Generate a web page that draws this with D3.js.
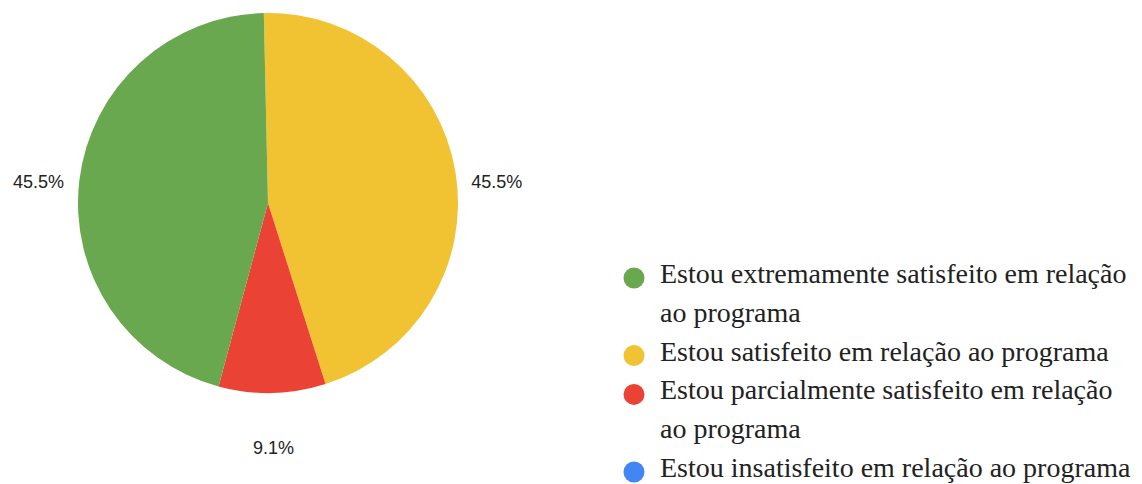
<!DOCTYPE html>
<html lang="pt">
<head>
	<meta charset="UTF-8">
	<title>Satisfação com o programa</title>
	<script src="https://cdn.jsdelivr.net/npm/d3@7"></script>
	<style>
		html, body { margin: 0; padding: 0; background: #fff; }
	</style>
</head>
<body>
	<svg id="svg"></svg>
	<script>
		// legend order
		var categories = [
			"Estou extremamente satisfeito em relação ao programa",
			"Estou satisfeito em relação ao programa",
			"Estou parcialmente satisfeito em relação ao programa",
			"Estou insatisfeito em relação ao programa"
		];
		var legendLines = [
			["Estou extremamente satisfeito em relação", "ao programa"],
			["Estou satisfeito em relação ao programa"],
			["Estou parcialmente satisfeito em relação", "ao programa"],
			["Estou insatisfeito em relação ao programa"]
		];
		var counts = [5, 5, 1, 0];
		var colors = ["#6aa84f", "#f1c232", "#ea4335", "#4285f4"];
		// order in which slices are drawn clockwise from the top
		var sliceOrder = [1, 2, 0, 3];

		var w = 1142, h = 484,
			cx = 268, cy = 203, r = 190,
			svg = d3.select("#svg").attr("width", w).attr("height", h);

		var total = d3.sum(counts);
		var pie = d3.pie()
			.sort(null)
			.value(function(i) { return counts[i]; })
			.startAngle(-0.022)
			.endAngle(2 * Math.PI - 0.022);
		var arc = d3.arc().innerRadius(0).outerRadius(r);

		var arcs = pie(sliceOrder).filter(function(d) { return d.value > 0; });

		var g = svg.append("g").attr("transform", "translate(" + cx + "," + cy + ")");
		g.selectAll("path.slice")
			.data(arcs)
			.enter().append("path")
			.attr("class", "slice")
			.attr("d", arc)
			.attr("fill", function(d) { return colors[d.data]; });

		var fmt = d3.format(".1%");
		g.selectAll("text.pct")
			.data(arcs)
			.enter().append("text")
			.attr("class", "pct")
			.each(function(d) {
				var a = (d.startAngle + d.endAngle) / 2,
					s = Math.sin(a), c = Math.cos(a),
					rr = r + 15 + 40 * c * c,
					x = rr * s,
					y = -rr * c * c * c - 21 * s * s;
				d3.select(this)
					.attr("x", x)
					.attr("y", y)
					.attr("text-anchor", Math.abs(s) < 0.3 ? "middle" : (s > 0 ? "start" : "end"));
			})
			.attr("dy", "0.35em")
			.style("font-family", "Arial, 'Liberation Sans', sans-serif")
			.style("font-size", "18px")
			.attr("fill", "#222")
			.text(function(d) { return fmt(d.value / total); });

		// legend
		var lx = 634, textX = 660, firstBase = 283, lineH = 38.8;
		var lineIdx = 0;
		var legend = svg.append("g");
		categories.forEach(function(cat, i) {
			var base = firstBase + lineIdx * lineH;
			legend.append("circle")
				.attr("cx", lx)
				.attr("cy", base - 5)
				.attr("r", 10.5)
				.attr("fill", colors[i]);
			var t = legend.append("text")
				.attr("x", textX)
				.attr("y", base)
				.style("font-family", "'Liberation Serif', 'Times New Roman', serif")
				.style("font-size", "28px")
				.attr("fill", "#222");
			legendLines[i].forEach(function(line, j) {
				t.append("tspan")
					.attr("x", textX)
					.attr("y", base + j * lineH)
					.text(line);
			});
			lineIdx += legendLines[i].length;
		});
	</script>
</body>
</html>
